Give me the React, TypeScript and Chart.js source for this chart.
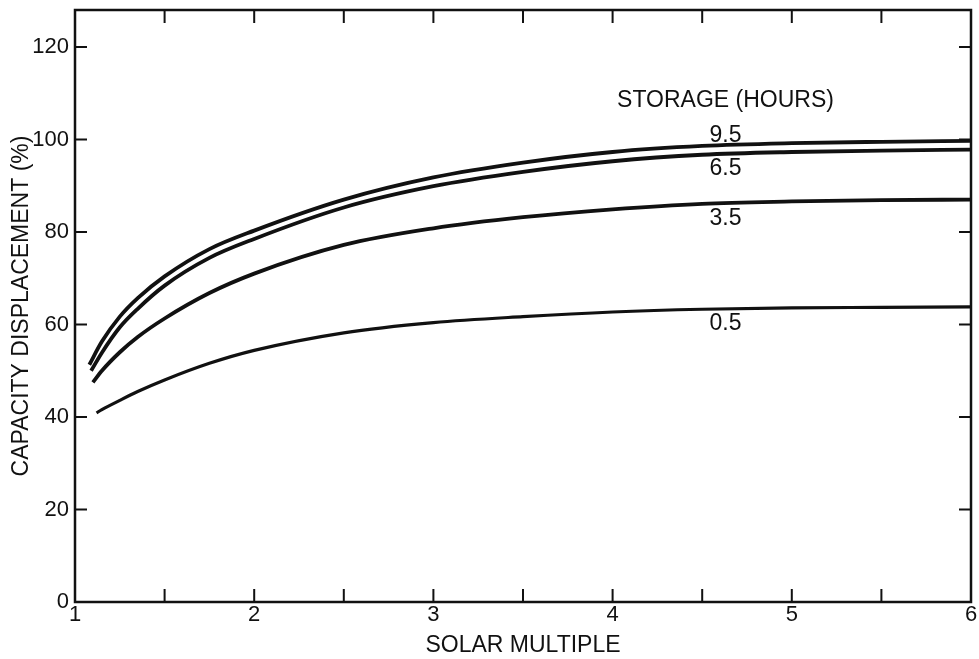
import React, { useEffect, useRef } from "react";
import { Chart, registerables } from "chart.js";

Chart.register(...registerables);

// Storage duration of each curve (hours)
const storageHours = ["9.5", "6.5", "3.5", "0.5"];

// Solar multiple grid shared by all curves after their first point
const solarMultiple = [1.15, 1.25, 1.35, 1.5, 1.75, 2, 2.5, 3, 3.5, 4, 4.5, 5, 5.5, 6];

// First point of each curve (solar multiple, capacity displacement %)
const startMultiple = [1.08, 1.09, 1.1, 1.12];
const startDisplacement = [51.3, 50.0, 47.5, 40.9];

// Capacity displacement (%) on the solarMultiple grid
const displacement95 = [56.3, 61.7, 65.7, 70.4, 76.3, 80.3, 87.0, 91.8, 95.0, 97.3, 98.6, 99.2, 99.5, 99.7];
const displacement65 = [53.9, 59.4, 63.4, 68.4, 74.4, 78.5, 85.3, 89.9, 93.0, 95.3, 96.7, 97.3, 97.6, 97.8];
const displacement35 = [50.0, 54.0, 57.3, 61.3, 66.8, 71.0, 77.2, 80.8, 83.2, 84.9, 86.1, 86.6, 86.9, 87.0];
const displacement05 = [41.6, 43.6, 45.5, 48.0, 51.6, 54.4, 58.2, 60.4, 61.7, 62.7, 63.3, 63.6, 63.7, 63.8];

const seriesValues = [displacement95, displacement65, displacement35, displacement05];

// Axis ticks
const yTickValues = [0, 20, 40, 60, 80, 100, 120];
const frameTickX = [1.5, 2, 2.5, 3, 3.5, 4, 4.5, 5, 5.5];

// Curve label anchors in data units
const labelMultiple = 4.63;
const labelDisplacement = [100.9, 93.6, 82.8, 60.1];
const headingDisplacement = 108.4;

const INK = "#111111";
const FONT_FAMILY = "'Liberation Sans', Arial, Helvetica, sans-serif";

const framePlugin = {
  id: "frameAndLabels",
  afterDatasetsDraw(chart: any) {
    const { ctx, chartArea: a, scales } = chart;
    const xs = scales.x;
    const ys = scales.y;
    ctx.save();
    ctx.strokeStyle = INK;
    ctx.lineWidth = 2.5;
    ctx.strokeRect(a.left, a.top, a.right - a.left, a.bottom - a.top);

    ctx.lineWidth = 2;
    ctx.beginPath();
    for (const v of frameTickX) {
      const px = xs.getPixelForValue(v);
      ctx.moveTo(px, a.top);
      ctx.lineTo(px, a.top + 13);
      ctx.moveTo(px, a.bottom);
      ctx.lineTo(px, a.bottom - 13);
    }
    for (const v of yTickValues) {
      if (v === 0) continue;
      const py = ys.getPixelForValue(v);
      ctx.moveTo(a.left, py);
      ctx.lineTo(a.left + 12, py);
      ctx.moveTo(a.right, py);
      ctx.lineTo(a.right - 12, py);
    }
    ctx.stroke();

    ctx.fillStyle = INK;
    ctx.font = `23px ${FONT_FAMILY}`;
    ctx.textAlign = "center";
    ctx.textBaseline = "middle";
    const lx = xs.getPixelForValue(labelMultiple);
    ctx.fillText("STORAGE (HOURS)", lx, ys.getPixelForValue(headingDisplacement));
    storageHours.forEach((h, i) => {
      ctx.fillText(h, lx, ys.getPixelForValue(labelDisplacement[i]));
    });
    ctx.restore();
  },
};

export default function App() {
  const canvasRef = useRef<HTMLCanvasElement | null>(null);

  useEffect(() => {
    const canvas = canvasRef.current;
    if (!canvas) return;

    const datasets = storageHours.map((h, i) => ({
      label: `${h} h`,
      data: [
        { x: startMultiple[i], y: startDisplacement[i] },
        ...solarMultiple.map((x, j) => ({ x, y: seriesValues[i][j] })),
      ],
      borderColor: INK,
      borderWidth: i === 3 ? 3.2 : 3.8,
      pointRadius: 0,
      fill: false,
      cubicInterpolationMode: "monotone" as const,
    }));

    const chart = new Chart(canvas, {
      type: "line",
      data: { datasets },
      options: {
        animation: false,
        responsive: false,
        devicePixelRatio: 1,
        layout: { padding: { top: 10, right: 8, left: 0, bottom: 0 } },
        plugins: {
          legend: { display: false },
          tooltip: { enabled: false },
        },
        scales: {
          x: {
            type: "linear",
            min: 1,
            max: 6,
            ticks: {
              stepSize: 1,
              color: INK,
              font: { size: 22, family: FONT_FAMILY },
              padding: 0,
              maxRotation: 0,
              autoSkip: false,
            },
            grid: { display: false, drawTicks: false },
            border: { display: false },
            title: {
              display: true,
              text: "SOLAR MULTIPLE",
              color: INK,
              font: { size: 23, family: FONT_FAMILY },
              padding: { top: 0, bottom: 0 },
            },
            afterFit(scale: any) {
              scale.height = 57;
              scale.paddingLeft = 0;
              scale.paddingRight = 0;
            },
          },
          y: {
            type: "linear",
            min: 0,
            max: 128,
            ticks: {
              stepSize: 20,
              includeBounds: false,
              color: INK,
              font: { size: 22, family: FONT_FAMILY },
              padding: 6,
            },
            grid: { display: false, drawTicks: false },
            border: { display: false },
            title: {
              display: true,
              text: "CAPACITY DISPLACEMENT (%)",
              color: INK,
              font: { size: 23, family: FONT_FAMILY },
              padding: { top: 8, bottom: 0 },
            },
            afterFit(scale: any) {
              scale.width = 75;
              scale.paddingTop = 0;
              scale.paddingBottom = 0;
            },
          },
        },
      },
      plugins: [framePlugin],
    });

    return () => chart.destroy();
  }, []);

  return (
    <div style={{ position: "absolute", left: 0, top: 0, width: 979, height: 659, background: "#fff" }}>
      <canvas ref={canvasRef} width={979} height={659} style={{ display: "block" }} />
    </div>
  );
}
